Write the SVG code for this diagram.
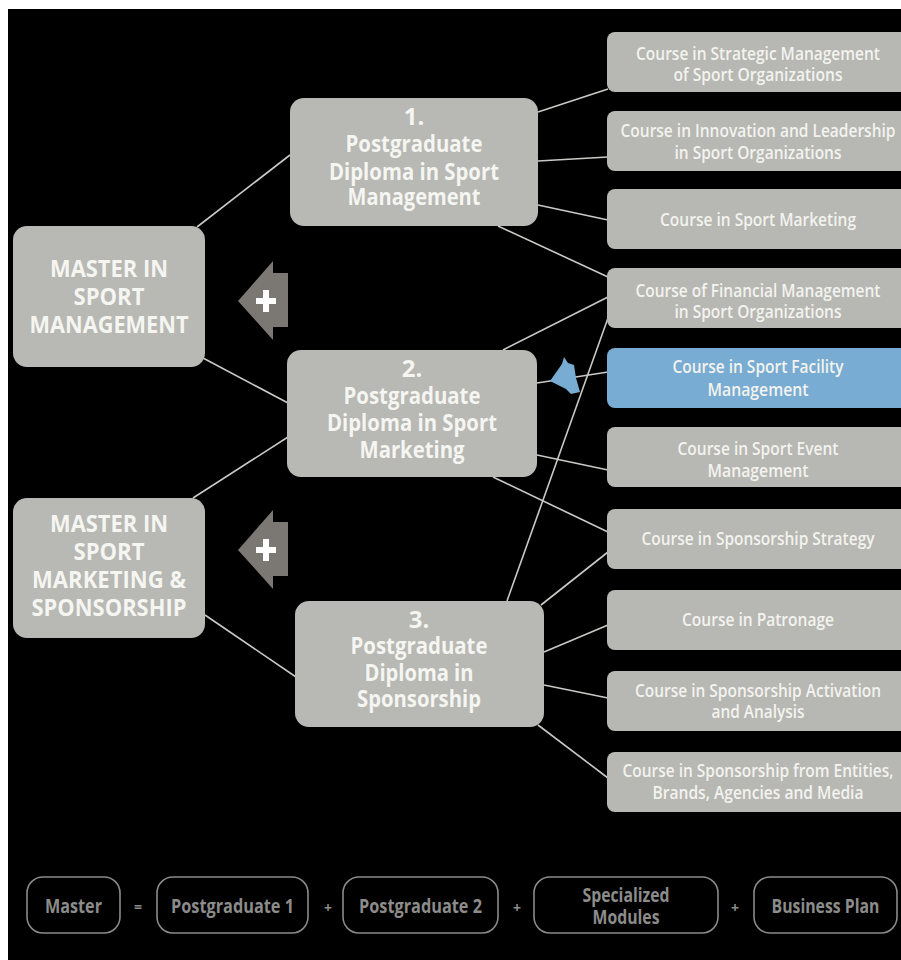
<svg xmlns="http://www.w3.org/2000/svg" width="901" height="960" viewBox="0 0 901 960">
<style>
.node{fill:#b8b8b4}
.course{fill:#b7b7b3}
.blue{fill:#79acd2}
.big{font-family:"Open Sans","DejaVu Sans",sans-serif;font-weight:700;font-size:24px;fill:#f5f5f1;text-anchor:middle}
.ct{font-family:"Open Sans","DejaVu Sans",sans-serif;font-weight:600;font-size:18px;fill:#f3f3ef;text-anchor:middle}
.lg{font-family:"Open Sans","DejaVu Sans",sans-serif;font-weight:700;font-size:19px;fill:#8c8c8a;text-anchor:middle}
.op{font-family:"Open Sans","DejaVu Sans",sans-serif;font-weight:700;font-size:14px;fill:#8c8c8a;text-anchor:middle}
.lgbox{fill:none;stroke:#8a8a88;stroke-width:1.6}
.conn line{stroke:#c9c9c6;stroke-width:1.6}
.plusarrow{fill:#7b7874}
.plus{fill:#ffffff}
</style>
<defs>
<path id="cbox" d="M8,0 H294 V60 H8 A8,8 0 0 1 0,52 V8 A8,8 0 0 1 8,0 Z"/>
</defs>
<rect x="0" y="0" width="901" height="960" fill="#ffffff"/>
<rect x="8" y="9" width="893" height="951" fill="#000000"/>

<g id="connectors" class="conn">
<line x1="197" y1="227" x2="290" y2="155"/>
<line x1="203" y1="358" x2="288" y2="403"/>
<line x1="193" y1="498" x2="288" y2="437"/>
<line x1="205" y1="615" x2="296" y2="677"/>
<line x1="538" y1="112" x2="608" y2="89"/>
<line x1="538" y1="161" x2="608" y2="157"/>
<line x1="538" y1="205" x2="608" y2="220"/>
<line x1="498" y1="226" x2="608" y2="277"/>
<line x1="503" y1="350" x2="608" y2="297"/>
<line x1="537" y1="383" x2="608" y2="372"/>
<line x1="537" y1="455" x2="608" y2="470"/>
<line x1="493" y1="477" x2="608" y2="532"/>
<line x1="541" y1="605" x2="608" y2="552"/>
<line x1="544" y1="652" x2="608" y2="625"/>
<line x1="544" y1="685" x2="608" y2="698"/>
<line x1="538" y1="725" x2="608" y2="778"/>
</g>

<g id="facility-arrow">
<polygon class="blue" points="550,381 562,364 564,357 568,363 574,365 576,378 580,392 571,394 566,389"/>
</g>
<g id="cross-line" class="conn">
<line x1="608" y1="318" x2="507" y2="601"/>
</g>

<g id="master-management">
<rect class="node" x="13" y="226" width="192" height="141" rx="14"/>
<text class="big" x="109" y="277" textLength="118" lengthAdjust="spacingAndGlyphs">MASTER IN</text>
<text class="big" x="109" y="305" textLength="71" lengthAdjust="spacingAndGlyphs">SPORT</text>
<text class="big" x="109" y="333" textLength="159" lengthAdjust="spacingAndGlyphs">MANAGEMENT</text>
</g>

<g id="master-marketing">
<rect class="node" x="13" y="498" width="192" height="140" rx="14"/>
<text class="big" x="109" y="532" textLength="118" lengthAdjust="spacingAndGlyphs">MASTER IN</text>
<text class="big" x="109" y="560" textLength="71" lengthAdjust="spacingAndGlyphs">SPORT</text>
<text class="big" x="109" y="588" textLength="154" lengthAdjust="spacingAndGlyphs">MARKETING &amp;</text>
<text class="big" x="109" y="616" textLength="155" lengthAdjust="spacingAndGlyphs">SPONSORSHIP</text>
</g>

<g id="plus1">
<polygon class="plusarrow" points="238,301 273,261 273,273 288,273 288,327 273,327 273,340"/>
<rect class="plus" x="256" y="298" width="20" height="6"/>
<rect class="plus" x="263" y="290" width="6" height="22"/>
</g>
<g id="plus2">
<polygon class="plusarrow" points="238,550 273,510 273,522 288,522 288,576 273,576 273,589"/>
<rect class="plus" x="256" y="547" width="20" height="6"/>
<rect class="plus" x="263" y="539" width="6" height="22"/>
</g>

<g id="pg1">
<rect class="node" x="290" y="98" width="248" height="128" rx="14"/>
<text class="big" x="414" y="125">1.</text>
<text class="big" x="414" y="152" textLength="137" lengthAdjust="spacingAndGlyphs">Postgraduate</text>
<text class="big" x="414" y="180" textLength="170" lengthAdjust="spacingAndGlyphs">Diploma in Sport</text>
<text class="big" x="414" y="205" textLength="133" lengthAdjust="spacingAndGlyphs">Management</text>
</g>

<g id="pg2">
<rect class="node" x="287" y="350" width="250" height="127" rx="14"/>
<text class="big" x="412" y="377">2.</text>
<text class="big" x="412" y="404" textLength="137" lengthAdjust="spacingAndGlyphs">Postgraduate</text>
<text class="big" x="412" y="431" textLength="170" lengthAdjust="spacingAndGlyphs">Diploma in Sport</text>
<text class="big" x="412" y="458" textLength="105" lengthAdjust="spacingAndGlyphs">Marketing</text>
</g>

<g id="pg3">
<rect class="node" x="295" y="601" width="249" height="126" rx="14"/>
<text class="big" x="419" y="628">3.</text>
<text class="big" x="419" y="654" textLength="137" lengthAdjust="spacingAndGlyphs">Postgraduate</text>
<text class="big" x="419" y="681" textLength="109" lengthAdjust="spacingAndGlyphs">Diploma in</text>
<text class="big" x="419" y="707" textLength="124" lengthAdjust="spacingAndGlyphs">Sponsorship</text>
</g>

<g id="c1">
<use href="#cbox" class="course" x="607" y="32"/>
<text class="ct" x="758" y="60" textLength="244" lengthAdjust="spacingAndGlyphs">Course in Strategic Management</text>
<text class="ct" x="758" y="81" textLength="169" lengthAdjust="spacingAndGlyphs">of Sport Organizations</text>
</g>
<g id="c2">
<use href="#cbox" class="course" x="607" y="111"/>
<text class="ct" x="758" y="137" textLength="275" lengthAdjust="spacingAndGlyphs">Course in Innovation and Leadership</text>
<text class="ct" x="758" y="159" textLength="167" lengthAdjust="spacingAndGlyphs">in Sport Organizations</text>
</g>
<g id="c3">
<use href="#cbox" class="course" x="607" y="189"/>
<text class="ct" x="758" y="226" textLength="196" lengthAdjust="spacingAndGlyphs">Course in Sport Marketing</text>
</g>
<g id="c4">
<use href="#cbox" class="course" x="607" y="268"/>
<text class="ct" x="758" y="297" textLength="245" lengthAdjust="spacingAndGlyphs">Course of Financial Management</text>
<text class="ct" x="758" y="318" textLength="167" lengthAdjust="spacingAndGlyphs">in Sport Organizations</text>
</g>
<g id="c5">
<use href="#cbox" class="blue" x="607" y="348"/>
<text class="ct" x="758" y="373" textLength="171" lengthAdjust="spacingAndGlyphs">Course in Sport Facility</text>
<text class="ct" x="758" y="396" textLength="101" lengthAdjust="spacingAndGlyphs">Management</text>
</g>
<g id="c6">
<use href="#cbox" class="course" x="607" y="427"/>
<text class="ct" x="758" y="455" textLength="161" lengthAdjust="spacingAndGlyphs">Course in Sport Event</text>
<text class="ct" x="758" y="477" textLength="101" lengthAdjust="spacingAndGlyphs">Management</text>
</g>
<g id="c7">
<use href="#cbox" class="course" x="607" y="509"/>
<text class="ct" x="758" y="545" textLength="233" lengthAdjust="spacingAndGlyphs">Course in Sponsorship Strategy</text>
</g>
<g id="c8">
<use href="#cbox" class="course" x="607" y="590"/>
<text class="ct" x="758" y="626" textLength="152" lengthAdjust="spacingAndGlyphs">Course in Patronage</text>
</g>
<g id="c9">
<use href="#cbox" class="course" x="607" y="671"/>
<text class="ct" x="758" y="697" textLength="246" lengthAdjust="spacingAndGlyphs">Course in Sponsorship Activation</text>
<text class="ct" x="758" y="718" textLength="93" lengthAdjust="spacingAndGlyphs">and Analysis</text>
</g>
<g id="c10">
<use href="#cbox" class="course" x="607" y="752"/>
<text class="ct" x="758" y="777" textLength="271" lengthAdjust="spacingAndGlyphs">Course in Sponsorship from Entities,</text>
<text class="ct" x="758" y="799" textLength="211" lengthAdjust="spacingAndGlyphs">Brands, Agencies and Media</text>
</g>

<g id="legend">
<g id="lg-master">
<rect class="lgbox" x="27" y="877" width="93" height="56" rx="16"/>
<text class="lg" x="73.5" y="913" textLength="57" lengthAdjust="spacingAndGlyphs">Master</text>
</g>
<text class="op" x="138" y="912">=</text>
<g id="lg-pg1">
<rect class="lgbox" x="157" y="877" width="151" height="56" rx="16"/>
<text class="lg" x="232.5" y="913" textLength="123" lengthAdjust="spacingAndGlyphs">Postgraduate 1</text>
</g>
<text class="op" x="328" y="913">+</text>
<g id="lg-pg2">
<rect class="lgbox" x="343" y="877" width="155" height="56" rx="16"/>
<text class="lg" x="420.5" y="913" textLength="123" lengthAdjust="spacingAndGlyphs">Postgraduate 2</text>
</g>
<text class="op" x="517" y="913">+</text>
<g id="lg-spec">
<rect class="lgbox" x="534" y="877" width="184" height="56" rx="16"/>
<text class="lg" x="626" y="902" textLength="87" lengthAdjust="spacingAndGlyphs">Specialized</text>
<text class="lg" x="626" y="924" textLength="67" lengthAdjust="spacingAndGlyphs">Modules</text>
</g>
<text class="op" x="735" y="913">+</text>
<g id="lg-bp">
<rect class="lgbox" x="754" y="877" width="143" height="56" rx="16"/>
<text class="lg" x="825.5" y="913" textLength="108" lengthAdjust="spacingAndGlyphs">Business Plan</text>
</g>
</g>
</svg>
